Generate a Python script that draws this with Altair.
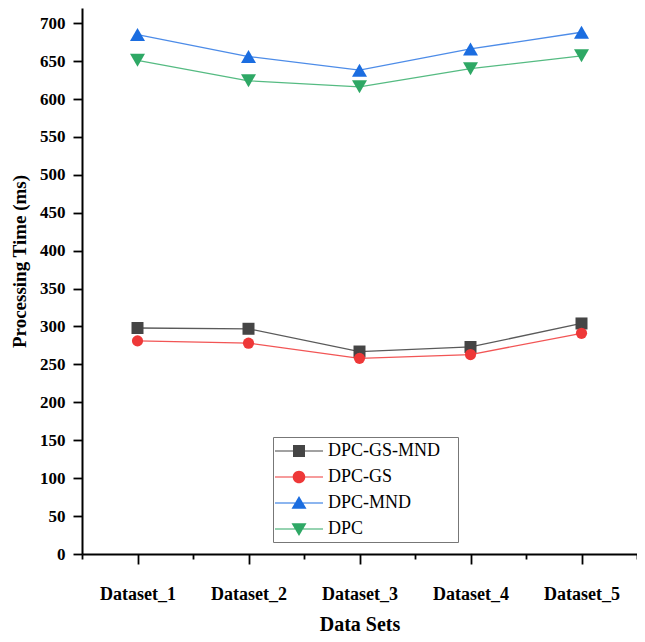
import altair as alt
import pandas as pd

# ---- data ----
datasets = [1, 2, 3, 4, 5]
series_names = ["DPC-GS-MND", "DPC-GS", "DPC-MND", "DPC"]
dpc_gs_mnd = [298, 297, 267, 273, 304]
dpc_gs = [281, 278, 258, 263, 291]
dpc_mnd = [685, 656, 638, 666, 688]
dpc = [651, 624, 616, 640, 657]
series_values = [dpc_gs_mnd, dpc_gs, dpc_mnd, dpc]

x_tick_values = [0.5, 1, 1.5, 2, 2.5, 3, 3.5, 4, 4.5, 5, 5.5]
y_tick_values = list(range(0, 701, 50))

# ---- styles ----
marker_colors = ["#454545", "#ee3838", "#1b6de0", "#2ea865"]
line_colors = ["#5a5a5a", "#f25555", "#4d8ce8", "#55bb82"]
marker_shapes = ["square", "circle", "triangle-up", "triangle-down"]
marker_sizes = [144, 125, 225, 225]

# legend symbols: a short line with the marker in the middle
L = "M-2.4,-0.06 L2.4,-0.06 L2.4,0.06 L-2.4,0.06 Z "
legend_paths = [
    L + "M-0.6,-0.6 L0.6,-0.6 L0.6,0.6 L-0.6,0.6 Z",
    L + "M0.63,0 A0.63,0.63 0 1,1 -0.63,0 A0.63,0.63 0 1,1 0.63,0 Z",
    L + "M0,-0.69 L0.75,0.57 L-0.75,0.57 Z",
    L + "M-0.75,-0.57 L0.75,-0.57 L0,0.69 Z",
]

rows = []
for name, vals in zip(series_names, series_values):
    for d, v in zip(datasets, vals):
        rows.append({"dataset": d, "series": name, "value": v})
df = pd.DataFrame(rows)

FONT = "Liberation Serif"

x_enc = alt.X(
    "dataset:Q",
    scale=alt.Scale(domain=[0.5, 5.5], nice=False, zero=False),
    axis=alt.Axis(
        values=x_tick_values,
        labelExpr="datum.value % 1 === 0 ? 'Dataset_' + datum.value : ''",
        tickSize={"condition": {"test": "datum.value % 1 === 0", "value": 10}, "value": 5},
        tickWidth=1.8,
        tickColor="black",
        domainColor="black",
        domainWidth=2,
        grid=False,
        labelFont=FONT,
        labelFontSize=18,
        labelFontWeight="bold",
        labelColor="black",
        labelPadding=21,
        labelAngle=0,
        title="Data Sets",
        titleFont=FONT,
        titleFontSize=20,
        titleFontWeight="bold",
        titleColor="black",
        titleBaseline="alphabetic",
        titleY=76,
    ),
)

y_enc = alt.Y(
    "value:Q",
    scale=alt.Scale(domain=[0, 720], nice=False),
    axis=alt.Axis(
        values=y_tick_values,
        tickSize=9,
        tickWidth=1.8,
        tickColor="black",
        domainColor="black",
        domainWidth=2,
        grid=False,
        labelFont=FONT,
        labelFontSize=17,
        labelFontWeight="bold",
        labelColor="black",
        labelPadding=8,
        title="Processing Time (ms)",
        titleFont=FONT,
        titleFontSize=19,
        titleFontWeight="bold",
        titleColor="black",
        titleAlign="center",
        titleBaseline="middle",
        titleX=-63,
        titleY=253,
    ),
)

base = alt.Chart(df)
layers = []
for name, lc in zip(series_names, line_colors):
    layers.append(
        base.transform_filter(alt.datum.series == name)
        .mark_line(color=lc, strokeWidth=1.3)
        .encode(x=x_enc, y=y_enc)
    )
for name, mc, shp, sz in zip(series_names, marker_colors, marker_shapes, marker_sizes):
    layers.append(
        base.transform_filter(alt.datum.series == name)
        .mark_point(filled=True, color=mc, shape=shp, size=sz, opacity=1)
        .encode(x=x_enc, y=y_enc)
    )

legend = alt.Legend(
    title=None,
    orient="none",
    legendX=191,
    legendY=429,
    strokeColor="#777777",
    fillColor="white",
    padding=4,
    symbolSize=400,
    symbolOffset=12,
    symbolStrokeWidth=0,
    symbolOpacity=1,
    labelFont=FONT,
    labelFontSize=18,
    labelFontWeight="normal",
    labelColor="black",
    labelOffset=19,
    labelExpr="datum.label + '\u00a0\u00a0\u00a0\u200b'",
    rowPadding=7,
)

legend_layer = base.mark_point(filled=True, opacity=0).encode(
    x=x_enc,
    y=y_enc,
    color=alt.Color("series:N", scale=alt.Scale(domain=series_names, range=marker_colors), legend=legend),
    shape=alt.Shape("series:N", scale=alt.Scale(domain=series_names, range=legend_paths), legend=legend),
)
layers.append(legend_layer)

chart = (
    alt.layer(*layers)
    .properties(
        width=555,
        height=546,
        padding={"left": 74, "top": 0, "right": 0, "bottom": 80},
        autosize=alt.AutoSizeParams(type="none"),
        background="white",
    )
    .configure_view(stroke=None)
)

chart.save("out.html", embed_options={"renderer": "svg", "actions": False})
